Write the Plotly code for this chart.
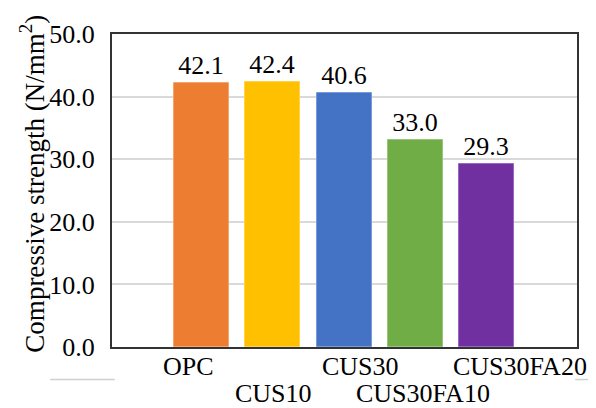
import plotly.graph_objects as go

categories = ["OPC", "CUS10", "CUS30", "CUS30FA10", "CUS30FA20"]
strength = [42.1, 42.4, 40.6, 33.0, 29.3]
value_labels = ["42.1", "42.4", "40.6", "33.0", "29.3"]
y_ticks = [0, 10, 20, 30, 40, 50]
y_tick_labels = ["0.0", "10.0", "20.0", "30.0", "40.0", "50.0"]

colors = ["#ED7D31", "#FFC000", "#4472C4", "#70AD47", "#7030A0"]
edge = ["#F4A46E", "#FFD24D", "#7A9AD6", "#97C67A", "#9A66C0"]
label_row = [0, 1, 0, 1, 0]          # staggered tick-label rows
label_xshift = [-13, 1, 16, 7, 33]

FONT = "Liberation Serif, Times New Roman, Tinos, DejaVu Serif, serif"
FS = 26
xpos = list(range(len(categories)))

fig = go.Figure()
fig.add_trace(go.Bar(
    x=xpos, y=strength, width=0.77,
    marker=dict(color=colors, line=dict(color=edge, width=1)),
    text=value_labels, textposition="outside", cliponaxis=False,
    textfont=dict(family=FONT, size=FS, color="#000"),
))

for i, c in enumerate(categories):
    fig.add_annotation(
        x=xpos[i], y=0, xref="x", yref="y", text=c, showarrow=False,
        xanchor="center", yanchor="middle",
        yshift=-19 - 27 * label_row[i], xshift=label_xshift[i],
        font=dict(family=FONT, size=FS, color="#000"),
    )

fig.add_annotation(
    x=-0.172, y=0.522, xref="paper", yref="paper", textangle=-90,
    text="Compressive strength (N/mm<sup>2</sup>)", showarrow=False,
    xanchor="center", yanchor="middle",
    font=dict(family=FONT, size=27, color="#000"),
)

for x0, x1 in [(-0.133, 0.006), (0.996, 1.041)]:
    fig.add_shape(type="line", xref="paper", yref="paper", x0=x0, x1=x1,
                  y0=-0.104, y1=-0.104, line=dict(color="#D0D0D0", width=1.5))

# page body has an 8px margin at top/left, so the figure is 8px smaller
fig.update_layout(
    width=588, height=400,
    margin=dict(l=104, r=19, t=21, b=61),
    paper_bgcolor="white", plot_bgcolor="white",
    showlegend=False, bargap=0,
    font=dict(family=FONT, size=FS, color="#000"),
    xaxis=dict(range=[-1.255, 5.262], showticklabels=False, showgrid=False,
               zeroline=False, showline=True, mirror=True,
               linecolor="#333", linewidth=2, ticks=""),
    yaxis=dict(range=[0, 50], tickvals=y_ticks, ticktext=y_tick_labels,
               showgrid=True, gridcolor="#D9D9D9", gridwidth=1.5,
               zeroline=False, showline=True, mirror=True,
               linecolor="#333", linewidth=2, ticks="",
               ticklabelstandoff=10,
               tickfont=dict(family=FONT, size=FS, color="#000")),
)

fig.write_html("out.html")
